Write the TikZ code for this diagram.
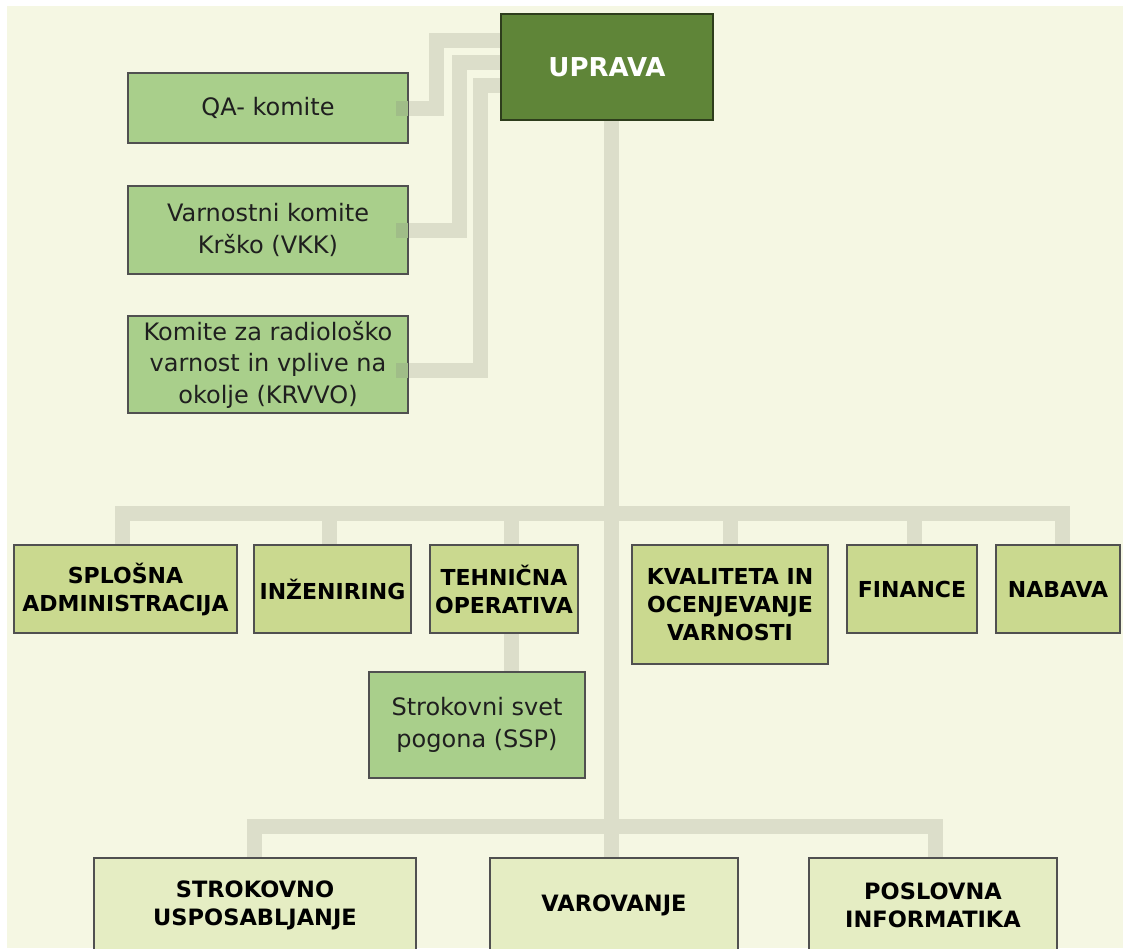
\documentclass[tikz,border=0pt]{standalone}
\usepackage{fontspec}
\setmainfont{DejaVu Sans}
\usetikzlibrary{calc,backgrounds}
\definecolor{bgc}{HTML}{F5F7E3}
\definecolor{conc}{HTML}{DCDECA}
\definecolor{comc}{HTML}{A9CF8B}
\definecolor{ovlc}{HTML}{A0BD88}
\definecolor{depc}{HTML}{CAD98F}
\definecolor{lowc}{HTML}{E5EDC3}
\definecolor{uprc}{HTML}{5F8538}
\definecolor{uprb}{HTML}{2E3D1C}
\definecolor{bordc}{HTML}{505050}
\begin{document}
\begin{tikzpicture}[x=1pt,y=-1pt,
  box/.style={draw=bordc, line width=2pt, inner sep=0pt, align=center, text=black},
  com/.style={box, fill=comc, minimum width=280pt, font=\fontsize{24}{31.5}\selectfont, text=black!88},
  dep/.style={box, fill=depc, minimum height=88pt, font=\bfseries\fontsize{22}{28}\selectfont},
  low/.style={box, fill=lowc, minimum width=248pt, minimum height=94pt, font=\bfseries\fontsize{22.5}{28}\selectfont},
  conn/.style={draw=conc, line width=15pt, line join=miter}]
\useasboundingbox (0,0) rectangle (1123,948);
\clip (0,0) rectangle (1123,948);

% coordinates for connector routing
\coordinate (qaT) at (436.5,40);
\coordinate (vkkT) at (459.5,62);
\coordinate (krT) at (480.5,85);
\coordinate (busT) at (611,513);
\coordinate (busB) at (611,826);

% nodes
\node[box, fill=uprc, draw=uprb, text=white, minimum width=212pt, minimum height=106pt,
      font=\bfseries\fontsize{26}{30}\selectfont] (upr) at (607,67) {UPRAVA};
\node[com, minimum height=70pt] (qa) at (268,108) {QA- komite};
\node[com, minimum height=88pt] (vkk) at (268,230) {Varnostni komite\\Krško (VKK)};
\node[com, minimum height=97pt] (krvvo) at (268,364.5) {Komite za radiološko\\varnost in vplive na\\okolje (KRVVO)};

\node[dep, minimum width=223pt] (spl) at (125.5,589) {SPLOŠNA\\ADMINISTRACIJA};
\node[dep, minimum width=157pt] (inz) at (332.5,589) {INŽENIRING};
\node[dep, minimum width=148pt] (teh) at (504,589) {TEHNIČNA\\OPERATIVA};
\node[dep, minimum width=196pt, minimum height=119pt] (kva) at (730,604.5) {KVALITETA IN\\OCENJEVANJE\\VARNOSTI};
\node[dep, minimum width=130pt] (fin) at (912,589) {FINANCE};
\node[dep, minimum width=124pt] (nab) at (1058,589) {NABAVA};

\node[com, minimum width=216pt, minimum height=106pt] (ssp) at (477,725) {Strokovni svet\\pogona (SSP)};

\node[low, minimum width=322pt] (str) at (255,905) {STROKOVNO\\USPOSABLJANJE};
\node[low] (var) at (614,905) {VAROVANJE};
\node[low] (pos) at (933,905) {POSLOVNA\\INFORMATIKA};

% background and connectors (behind the boxes)
\begin{pgfonlayer}{background}
\fill[white] (0,0) rectangle (1123,948);
\fill[bgc] (7,6) rectangle (1123,948);
\draw[conn] (qa.east) -| (qaT) -- ([xshift=10pt]qaT -| upr.west);
\draw[conn] (vkk.east) -| (vkkT) -- ([xshift=10pt]vkkT -| upr.west);
\draw[conn] ([yshift=-5.5pt]krvvo.east) -| (krT) -- ([xshift=10pt]krT -| upr.west);
\draw[conn] ([xshift=4pt]upr.south) -- (busB);
\draw[conn] ([xshift=-3.5pt]spl.north) |- (busT);
\draw[conn] ([xshift=-3.5pt]inz.north) |- (busT);
\draw[conn] ([xshift=7pt]teh.north) |- (busT);
\draw[conn] (kva.north) |- (busT);
\draw[conn] ([xshift=2pt]fin.north) |- (busT);
\draw[conn] ([xshift=4pt]nab.north) |- (busT);
\draw[conn] ([xshift=7pt]teh.south) -- ([xshift=34pt]ssp.north);
\draw[conn] ([xshift=-1pt]str.north) |- (busB);
\draw[conn] ([xshift=-3pt]var.north) -- (busB);
\draw[conn] ([xshift=2pt]pos.north) |- (busB);
\end{pgfonlayer}
% faint overlap of connector ends on the committee boxes
\draw[conn, draw=ovlc] ([xshift=-13pt]qa.east) -- ([xshift=-1pt]qa.east);
\draw[conn, draw=ovlc] ([xshift=-13pt]vkk.east) -- ([xshift=-1pt]vkk.east);
\draw[conn, draw=ovlc] ([xshift=-13pt,yshift=-5.5pt]krvvo.east) -- ([xshift=-1pt,yshift=-5.5pt]krvvo.east);
\end{tikzpicture}
\end{document}
